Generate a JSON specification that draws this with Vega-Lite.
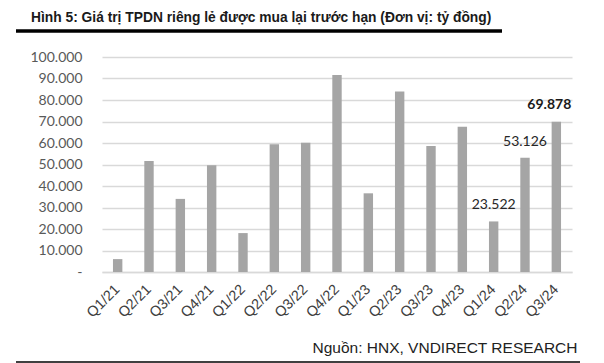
{
  "$schema": "https://vega.github.io/schema/vega-lite/v6.json",
  "autosize": "none",
  "width": 470,
  "height": 215,
  "padding": {"left": 102, "top": 57, "right": 32, "bottom": 91},
  "background": "white",
  "title": {
    "text": "Hình 5: Giá trị TPDN riêng lẻ được mua lại trước hạn (Đơn vị: tỷ đồng)",
    "anchor": "start",
    "frame": "group",
    "dx": -71,
    "offset": -7,
    "baseline": "alphabetic",
    "font": "Liberation Sans",
    "fontSize": 13.8,
    "fontWeight": "bold",
    "color": "#1a1a1a"
  },
  "config": {"view": {"stroke": null}},
  "data": {
    "values": [
      {"quarter": "Q1/21", "value": 6000},
      {"quarter": "Q2/21", "value": 51600},
      {"quarter": "Q3/21", "value": 34000},
      {"quarter": "Q4/21", "value": 49600},
      {"quarter": "Q1/22", "value": 18100},
      {"quarter": "Q2/22", "value": 59400},
      {"quarter": "Q3/22", "value": 60100},
      {"quarter": "Q4/22", "value": 91600},
      {"quarter": "Q1/23", "value": 36600},
      {"quarter": "Q2/23", "value": 83900},
      {"quarter": "Q3/23", "value": 58600},
      {"quarter": "Q4/23", "value": 67600},
      {"quarter": "Q1/24", "value": 23522},
      {"quarter": "Q2/24", "value": 53126},
      {"quarter": "Q3/24", "value": 69878}
    ]
  },
  "encoding": {
    "x": {
      "field": "quarter",
      "type": "nominal",
      "sort": null,
      "scale": {"paddingInner": 0.7, "paddingOuter": 0.35},
      "axis": {
        "title": "Nguồn: HNX, VNDIRECT RESEARCH",
        "titleAnchor": "end",
        "titleAlign": "right",
        "titleX": 475,
        "titleY": 80,
        "titleBaseline": "alphabetic",
        "titleFont": "Liberation Sans",
        "titleFontSize": 15.5,
        "titleFontWeight": "normal",
        "titleColor": "#222222",
        "labelAngle": -45,
        "labelAlign": "right",
        "labelBaseline": "middle",
        "labelPadding": 15,
        "labelFont": "Liberation Sans",
        "labelFontSize": 14.5,
        "labelColor": "#404040",
        "ticks": false,
        "domainColor": "#D9D9D9",
        "domainWidth": 1.5
      }
    },
    "y": {
      "field": "value",
      "type": "quantitative",
      "scale": {"domain": [0, 100000], "nice": false},
      "axis": {
        "title": null,
        "values": [0, 10000, 20000, 30000, 40000, 50000, 60000, 70000, 80000, 90000, 100000],
        "labelExpr": "datum.value == 0 ? '-' : replace(format(datum.value, ','), ',', '.')",
        "labelFont": "Lato",
        "labelFontSize": 14,
        "labelColor": "#595959",
        "labelPadding": 20,
        "ticks": false,
        "domain": false,
        "grid": true,
        "gridColor": "#D9D9D9",
        "gridWidth": 1.5
      }
    }
  },
  "layer": [
    {"mark": {"type": "bar", "color": "#A5A5A5"}},
    {
      "transform": [
        {"filter": "datum.quarter == 'Q1/24' || datum.quarter == 'Q2/24'"},
        {"calculate": "replace(format(datum.value, ','), ',', '.')", "as": "label"}
      ],
      "mark": {"type": "text", "baseline": "alphabetic", "dy": -12, "font": "Lato", "fontSize": 14, "color": "#262626"},
      "encoding": {"text": {"field": "label"}}
    },
    {
      "transform": [
        {"filter": "datum.quarter == 'Q3/24'"},
        {"calculate": "replace(format(datum.value, ','), ',', '.')", "as": "label"}
      ],
      "mark": {"type": "text", "baseline": "alphabetic", "dy": -13, "dx": -7, "font": "Lato", "fontSize": 14, "fontWeight": "bold", "color": "#1a1a1a"},
      "encoding": {"text": {"field": "label"}}
    },
    {
      "data": {"values": [{"x1": 0}]},
      "mark": {"type": "rule", "color": "#000000", "strokeWidth": 3.5},
      "encoding": {"x": {"value": -86}, "x2": {"value": 400}, "y": {"value": -26}}
    },
    {
      "data": {"values": [{"x1": 0}]},
      "mark": {"type": "rule", "color": "#000000", "strokeWidth": 1.5},
      "encoding": {"x": {"value": -86}, "x2": {"value": 478}, "y": {"value": 305}}
    }
  ]
}
